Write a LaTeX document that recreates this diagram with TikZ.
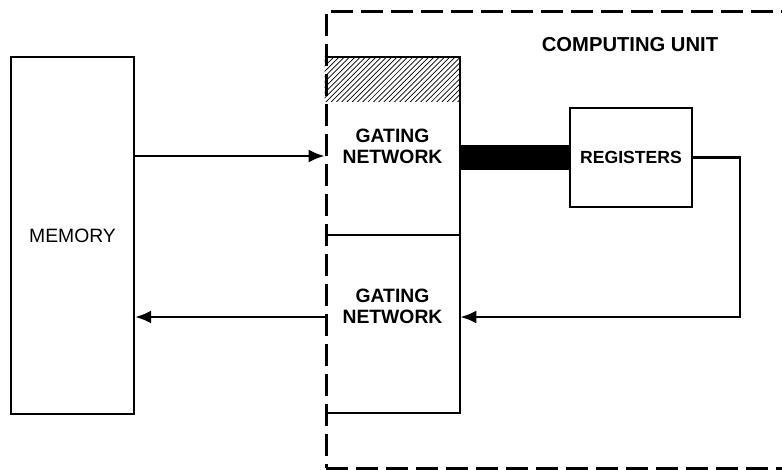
\documentclass[tikz,border=0pt]{standalone}
\usepackage{fontspec}
\setmainfont{Liberation Sans}
\usetikzlibrary{arrows.meta, patterns}

\begin{document}
\begin{tikzpicture}[
        x=0.02cm, y=-0.02cm,
        block/.style={draw, line width=1.2pt, align=center, inner sep=0pt,
            font=\fontsize{11}{12}\selectfont},
        gate/.style={minimum width=2.7cm, minimum height=3.56cm, inner sep=0pt},
        gatetext/.style={align=center, inner sep=0pt, font=\bfseries\fontsize{11}{12}\selectfont},
        unitbox/.style={draw, line width=1.6pt, dash pattern=on 0.44cm off 0.16cm,
            minimum width=10.1cm, minimum height=9.14cm, anchor=north west, inner sep=0pt},
        rel/.style={-{Latex[length=3.2mm, width=2.6mm]}, line width=1.5pt},
        bus/.style={line width=0.52cm}
    ]
        \clip (0,0) rectangle (782,470);
        \node[unitbox] (unit) at (325,10) {};
        \node[font=\bfseries\fontsize{11.5}{13}\selectfont] (title) at (630,45) {COMPUTING UNIT};
        \node[block, minimum width=2.46cm, minimum height=7.14cm] (mem) at (72.5,235.5) {MEMORY};
        \node[gate] (gu) at (392.5,146) {};
        \node[gate] (gl) at (392.5,324) {};
        \node[block, font=\bfseries\fontsize{10}{11}\selectfont,
            minimum width=2.44cm, minimum height=1.98cm] (reg) at (631,157.5) {REGISTERS};

        % hatched top of the upper gate
        \fill[pattern=north east lines] (gu.north west) rectangle ([yshift=-0.9cm]gu.north east);
        \draw[line width=1.2pt] (gu.north west) -- (gu.north east) -- (gl.south east) -- (gl.south west);
        \draw[line width=1.2pt] (gu.south west) -- (gu.south east);
        \node[gatetext] (gutext) at (gu.center) {GATING\\NETWORK};
        \node[gatetext] (gltext) at ([yshift=0.36cm]gl.center) {GATING\\NETWORK};

        \draw[bus] (gu.east |- reg.west) -- (reg.west);
        \coordinate (fb) at (740,317);
        \draw[rel] (mem.east |- 0,156) -- (gu.west |- 0,156);
        \draw[rel] (reg.east) -| (fb) -- (gl.east |- fb);
        \draw[rel] (gl.west |- fb) -- (mem.east |- fb);
    \end{tikzpicture}
\end{document}
